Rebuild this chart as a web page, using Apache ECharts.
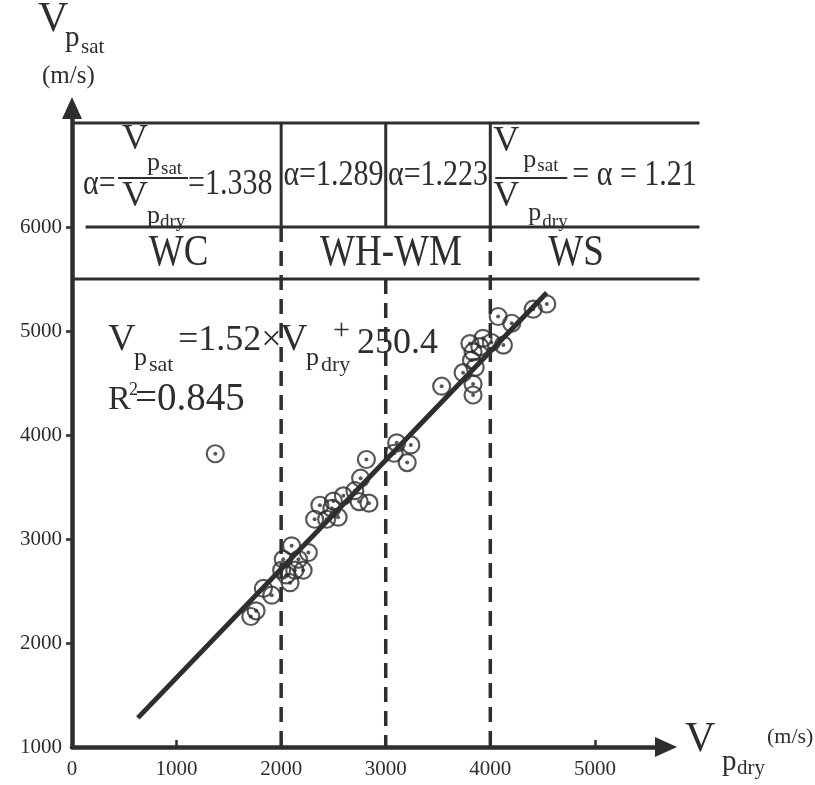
<!DOCTYPE html>
<html><head><meta charset="utf-8">
<script src="https://cdn.jsdelivr.net/npm/echarts@6/dist/echarts.min.js"></script>
<style>html,body{margin:0;padding:0;background:#fff}#c{width:815px;height:785px}</style>
</head><body><div id="c"></div>
<script>
// ---- data ----
const X_TICKS = [0, 1000, 2000, 3000, 4000, 5000];
const Y_TICKS = [1000, 2000, 3000, 4000, 5000, 6000];
const X_MAX = 5680, Y_MAX = 7145;
const CLASS_BOUNDS = [2000, 3000, 4000];
const DASH_TOP = [6000, 5500, 6000];
const TABLE_ROWS = [7000, 6000, 5500];
const ROW_LINE_START = [0, 130, 0];
const TABLE_RIGHT = 6000;
const CLASS_NAMES = ['WC', 'WH-WM', 'WS'];
const CLASS_NAME_X = [1020, 3050, 4820];
const ALPHA = ['1.338', '1.289', '1.223', '1.21'];
const FIT_LINE = [[630, 1280], [4540, 5368]];
const V_DRY = [1370, 1710, 1760, 1830, 1910, 2100, 2020, 2260, 2210, 2085, 2005, 2165, 2130, 2050,
  2320, 2435, 2545, 2485, 2370, 2500, 2595, 2705, 2760, 2745, 2840, 2815,
  3105, 3240, 3080, 3205, 3535, 3740, 3835, 3835, 3805, 3835, 3820, 3855, 3930, 4010, 4125, 4075, 4205, 4410, 4540, 3900];
const V_SAT = [3820, 2255, 2310, 2525, 2460, 2935, 2805, 2870, 2700, 2580, 2700, 2805, 2700, 2655,
  3190, 3190, 3210, 3295, 3325, 3365, 3415, 3465, 3585, 3360, 3345, 3765,
  3925, 3905, 3825, 3735, 4470, 4600, 4490, 4385, 4880, 4800, 4720, 4650, 4930, 4890, 4865, 5140, 5075, 5210, 5260, 4850];

// ---- chart ----
const INK = '#2e2e2e';
const FONT = '"Liberation Serif", "Times New Roman", serif';
const chart = echarts.init(document.getElementById('c'), null, {renderer: 'canvas'});
const pts = V_DRY.map((v, i) => [v, V_SAT[i]]);

// table frame + class boundaries: [x1, y1, x2, y2, dashed]
const segs = [];
TABLE_ROWS.forEach((r, i) => segs.push([ROW_LINE_START[i], r, TABLE_RIGHT, r, 0]));
CLASS_BOUNDS.forEach((b, i) => {
  segs.push([b, TABLE_ROWS[0], b, TABLE_ROWS[1], 0]);
  segs.push([b, DASH_TOP[i], b, Y_TICKS[0], 1]);
});

const series = [
  {type: 'custom', data: segs, clip: false, silent: true, animation: false, z: 3,
    dimensions: ['x1', 'y1', 'x2', 'y2', 'd'], encode: {x: [0, 2], y: [1, 3]},
    renderItem: function (params, api) {
      const a = api.coord([api.value(0), api.value(1)]);
      const b = api.coord([api.value(2), api.value(3)]);
      const dashed = api.value(4) === 1;
      return {type: 'line', shape: {x1: a[0], y1: a[1], x2: b[0], y2: b[1]},
        style: {stroke: INK, lineWidth: dashed ? 3.5 : 3, lineDash: dashed ? [15, 9] : null, fill: null}};
    }},
  {type: 'scatter', data: pts, symbol: 'circle', symbolSize: 17, silent: true, animation: false,
    itemStyle: {color: 'rgba(0,0,0,0)', borderColor: INK, borderWidth: 2.2}, z: 4},
  {type: 'scatter', data: pts, symbol: 'circle', symbolSize: 4, silent: true, animation: false,
    itemStyle: {color: INK}, z: 5},
  {type: 'line', data: FIT_LINE, symbol: 'none', silent: true, animation: false,
    lineStyle: {color: INK, width: 5}, z: 6}
];

const axisCommon = {
  axisLine: {show: true, symbol: ['none', 'triangle'], symbolSize: [20, 22], lineStyle: {color: INK, width: 4.5}},
  splitLine: {show: false},
};
const fmt = v => String(v);
chart.setOption({
  animation: false,
  backgroundColor: '#fff',
  grid: {left: 72, right: 815 - 666, top: 108, bottom: 785 - 747},
  xAxis: Object.assign({type: 'value', min: 0, max: X_MAX, interval: 1000,
    axisTick: {show: true, inside: true, length: 7, lineStyle: {color: INK, width: 2.5}, customValues: X_TICKS.slice(1)},
    axisLabel: {color: INK, fontFamily: FONT, fontSize: 21, margin: 12, formatter: fmt, customValues: X_TICKS}}, axisCommon),
  yAxis: Object.assign({type: 'value', min: Y_TICKS[0], max: Y_MAX, interval: 1000,
    axisTick: {show: true, length: 6, lineStyle: {color: INK, width: 2.5}, customValues: Y_TICKS.slice(1)},
    axisLabel: {color: INK, fontFamily: FONT, fontSize: 21, margin: 10, formatter: fmt, customValues: Y_TICKS}}, axisCommon),
  series: series
});

// ---- text annotations, anchored to data coordinates ----
function P(x, y) { return chart.convertToPixel({gridIndex: 0}, [x, y]); }
const G = [];
function T(anchor, dx, dy, text, size, align, sy) {
  G.push({type: 'text', x: anchor[0] + dx, y: anchor[1] + dy, scaleY: sy || 1, silent: true, z: 20,
    style: {text: text, font: size + 'px ' + FONT, fill: INK, align: align || 'left', verticalAlign: 'middle',
      textAlign: align || 'left', textVerticalAlign: 'middle'}});
}
function bar(anchor, x1, x2, y) {
  G.push({type: 'line', silent: true, z: 20, shape: {x1: anchor[0] + x1, y1: anchor[1] + y, x2: anchor[0] + x2, y2: anchor[1] + y},
    style: {stroke: INK, lineWidth: 2}});
}
const RS = 1.2; // vertical stretch of the table lettering
// y axis title
const yt = P(0, Y_MAX);
T(yt, -34, -88, 'V', 42); T(yt, -7, -70, 'p', 29); T(yt, 9, -61, 'sat', 21); T(yt, -30, -32, '(m/s)', 25);
// x axis title
const xt = P(X_MAX, Y_TICKS[0]);
T(xt, 19, -7, 'V', 42); T(xt, 56, 15, 'p', 29); T(xt, 71, 21, 'dry', 21); T(xt, 101, -10, '(m/s)', 22);
// row 1 cell 1
const c1 = P(0, TABLE_ROWS[0]);
T(c1, 11, 61, 'α=', 30, 'left', RS);
T(c1, 50, 16, 'V', 36); T(c1, 75, 40, 'p', 26); T(c1, 89, 46, 'sat', 19);
bar(c1, 46, 116, 55);
T(c1, 50, 73, 'V', 36); T(c1, 75, 93, 'p', 26); T(c1, 88, 99, 'dry', 19);
T(c1, 116, 61, '=' + ALPHA[0], 30, 'left', RS);
// row 1 cells 2,3
T(P(2500, 6500), 0, 0, 'α=' + ALPHA[1], 30, 'center', RS);
T(P(3500, 6500), 0, 0, 'α=' + ALPHA[2], 30, 'center', RS);
// row 1 cell 4
const c4 = P(CLASS_BOUNDS[2], TABLE_ROWS[0]);
T(c4, 3, 18, 'V', 36); T(c4, 33, 37, 'p', 26); T(c4, 47, 43, 'sat', 19);
bar(c4, 5, 77, 55);
T(c4, 3, 73, 'V', 36); T(c4, 38, 90, 'p', 26); T(c4, 52, 99, 'dry', 19);
T(c4, 82, 52, '= α = ' + ALPHA[3], 30, 'left', RS);
// row 2 class names
CLASS_NAMES.forEach((n, i) => T(P(CLASS_NAME_X[i], 5750), 0, 0, n, 37, 'center', RS));
// regression equation
const eq = P(0, 5000);
T(eq, 36, 9, 'V', 38); T(eq, 62, 27, 'p', 26); T(eq, 77, 34, 'sat', 22);
T(eq, 106, 9, '=1.52×', 36);
T(eq, 208, 9, 'V', 38); T(eq, 234, 27, 'p', 26); T(eq, 249, 34, 'dry', 22);
T(eq, 261, 0, '+', 30); T(eq, 285, 12, '250.4', 36);
T(eq, 36, 69, 'R', 34); T(eq, 57, 59, '2', 18); T(eq, 63, 69, '=0.845', 39);

chart.setOption({graphic: G});
</script>
</body></html>
